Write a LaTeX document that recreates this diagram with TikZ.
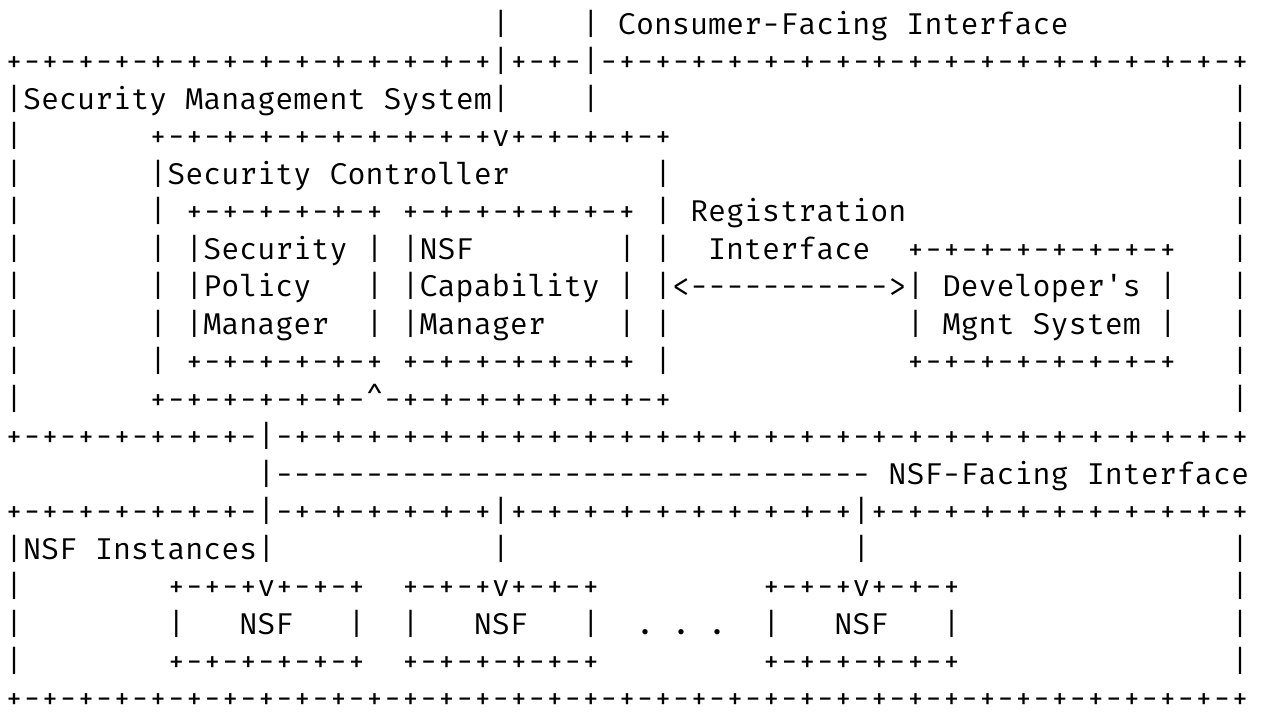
\documentclass[tikz,border=0pt]{standalone}
\usepackage{fontspec}
\setmonofont{Fira Mono}
\newlength\cw
\setlength\cw{9.015pt}
\newcommand\gap[1]{\hspace*{#1\cw}}
\ExplSyntaxOn
\cs_new:Npn \rpt #1#2 {\prg_replicate:nn{#1}{#2}}
\ExplSyntaxOff
\begin{document}
\begin{tikzpicture}[x=0.5pt,y=0.5pt,
  row/.style={anchor=base west,inner sep=0pt,outer sep=0pt,text=black,
    font=\ttfamily\fontsize{15.025pt}{18.75pt}\selectfont}]
\useasboundingbox[fill=white] (0,0) rectangle (1261,-712);
\node[row] (r0)  at (5,-34)    {\gap{27}|\gap{4}|\gap{1}Consumer-Facing\gap{1}Interface};
\node[row] (r1)  at (5,-71.5)  {\rpt{13}{+-}+|+-+-|\rpt{18}{-+}};
\node[row] (r2)  at (5,-109)   {|Security\gap1Management\gap1System|\gap{4}|\gap{35}|};
\node[row] (r3)  at (5,-146.5) {|\gap7\rpt{9}{+-}+v\rpt{4}{+-}+\gap{31}|};
\node[row] (r4)  at (5,-184)   {|\gap7|Security\gap1Controller\gap8|\gap{31}|};
\node[row] (r5)  at (5,-221.5) {|\gap7|\gap1\rpt5{+-}+\gap1\rpt6{+-}+\gap1|\gap1Registration\gap{18}|};
\node[row] (r6)  at (5,-259)   {|\gap7|\gap1|Security\gap1|\gap1|NSF\gap8|\gap1|\gap2Interface\gap2\rpt7{+-}+\gap3|};
\node[row] (r7)  at (5,-296.5) {|\gap7|\gap1|Policy\gap3|\gap1|Capability\gap1|\gap1|<\rpt{11}{-}>|\gap1Developer's\gap1|\gap3|};
\node[row] (r8)  at (5,-334)   {|\gap7|\gap1|Manager\gap2|\gap1|Manager\gap4|\gap1|\gap{13}|\gap1Mgnt\gap1System\gap1|\gap3|};
\node[row] (r9)  at (5,-371.5) {|\gap7|\gap1\rpt5{+-}+\gap1\rpt6{+-}+\gap1|\gap{13}\rpt7{+-}+\gap3|};
\node[row] (r10) at (5,-409)   {|\gap7\rpt6{+-}\textasciicircum\rpt8{-+}\gap{31}|};
\node[row] (r11) at (5,-446.5) {\rpt7{+-}|\rpt{27}{-+}};
\node[row] (r12) at (5,-484)   {\gap{14}|\rpt{33}{-}\gap1NSF-Facing\gap1Interface};
\node[row] (r13) at (5,-521.5) {\rpt7{+-}|\rpt6{-+}|\rpt9{+-}+|\rpt{10}{+-}+};
\node[row] (r14) at (5,-559)   {|NSF\gap1Instances|\gap{12}|\gap{19}|\gap{20}|};
\node[row] (r15) at (5,-596.5) {|\gap8+-+-+v+-+-+\gap2+-+-+v+-+-+\gap9+-+-+v+-+-+\gap{15}|};
\node[row] (r16) at (5,-634)   {|\gap8|\gap3NSF\gap3|\gap2|\gap3NSF\gap3|\gap2.\gap1.\gap1.\gap2|\gap3NSF\gap3|\gap{15}|};
\node[row] (r17) at (5,-671.5) {|\gap8\rpt5{+-}+\gap2\rpt5{+-}+\gap9\rpt5{+-}+\gap{15}|};
\node[row] (r18) at (5,-708)   {\rpt{34}{+-}+};
\end{tikzpicture}
\end{document}
